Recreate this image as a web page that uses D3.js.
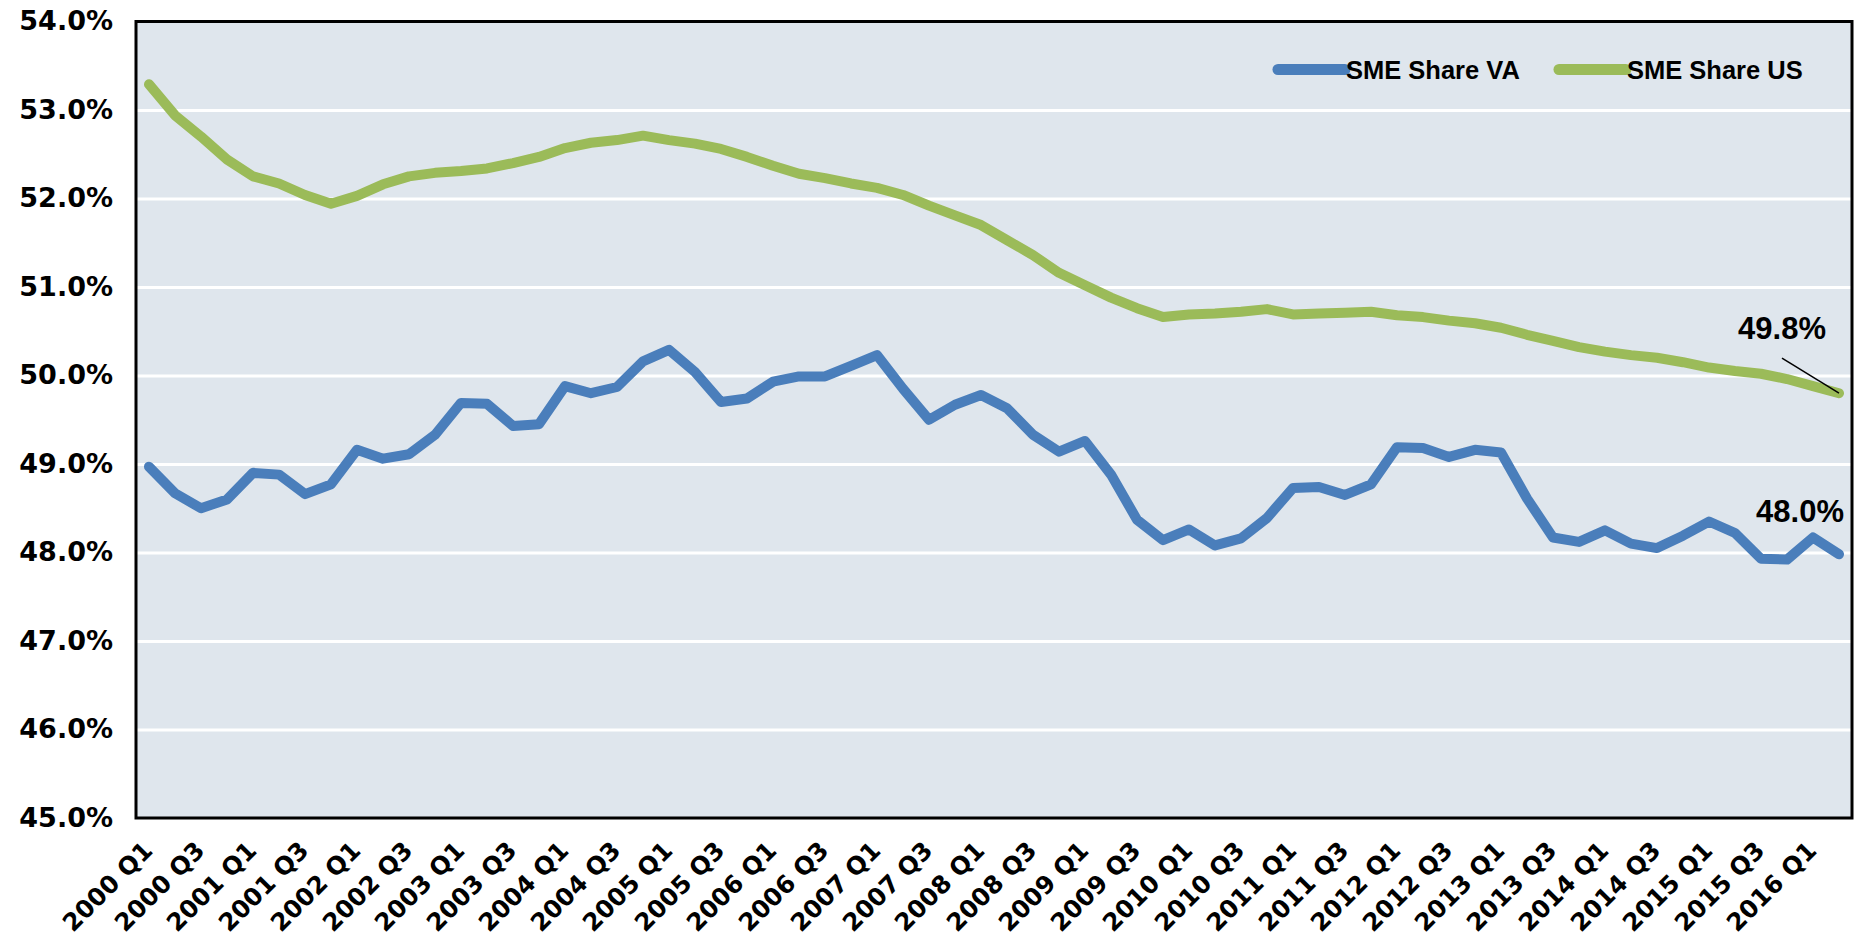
<!DOCTYPE html>
<html>
<head>
<meta charset="utf-8">
<script src="https://cdn.jsdelivr.net/npm/d3@7"></script>
<style>
  body { margin: 0; background: #fff; }
  svg { display: block; }
  .axis path, .axis line { display: none; }
  .tick-y text { font-family: "DejaVu Sans", sans-serif; font-weight: bold; font-size: 27px; fill: #000; }
  .tick-x text { font-family: "DejaVu Sans", sans-serif; font-weight: bold; font-size: 24.5px; fill: #000; }
  .grid line { stroke: #fff; stroke-width: 3; }
  .legend text, .note { font-family: "Liberation Sans", Arial, sans-serif; font-weight: bold; fill: #000; }
</style>
</head>
<body>
<div id="chart"></div>
<script>
// quarters 2000 Q1 .. 2016 Q2
var years = d3.range(2000, 2017)
var categories = []
years.forEach(y => [1, 2, 3, 4].forEach(q => categories.push(y + " Q" + q)))
categories = categories.slice(0, 66)

var shareVA = [
  48.97, 48.67, 48.50, 48.60, 48.90, 48.88, 48.66, 48.77, 49.16, 49.06,
  49.11, 49.33, 49.69, 49.68, 49.43, 49.45, 49.88, 49.80, 49.87, 50.16,
  50.29, 50.04, 49.70, 49.74, 49.93, 49.99, 49.99, 50.11, 50.23, 49.85,
  49.50, 49.67, 49.78, 49.63, 49.33, 49.14, 49.26, 48.88, 48.37, 48.14,
  48.26, 48.08, 48.16, 48.39, 48.73, 48.74, 48.65, 48.77, 49.19, 49.18,
  49.08, 49.16, 49.13, 48.61, 48.17, 48.12, 48.25, 48.10, 48.05, 48.19,
  48.35, 48.22, 47.93, 47.92, 48.17, 47.98
]
var shareUS = [
  53.29, 52.94, 52.70, 52.44, 52.25, 52.17, 52.04, 51.94, 52.03, 52.16,
  52.25, 52.29, 52.31, 52.34, 52.40, 52.47, 52.57, 52.63, 52.66, 52.71,
  52.66, 52.62, 52.56, 52.47, 52.37, 52.28, 52.23, 52.17, 52.12, 52.04,
  51.92, 51.81, 51.70, 51.53, 51.36, 51.16, 51.02, 50.88, 50.76, 50.66,
  50.69, 50.70, 50.72, 50.75, 50.69, 50.70, 50.71, 50.72, 50.68, 50.66,
  50.62, 50.59, 50.54, 50.46, 50.39, 50.32, 50.27, 50.23, 50.20, 50.15,
  50.09, 50.05, 50.02, 49.96, 49.88, 49.80
]
var yTicks = [45, 46, 47, 48, 49, 50, 51, 52, 53, 54]
var seriesNames = ["SME Share VA", "SME Share US"]
var seriesColors = ["#4a7ebb", "#9bbb59"]

var width = 1859, height = 942
var pad = { top: 21.5, right: 7, bottom: 124, left: 136 }
var innerW = width - pad.left - pad.right
var innerH = height - pad.top - pad.bottom

var svg = d3.select("#chart").append("svg")
    .attr("width", width)
    .attr("height", height)

var g = svg.append("g")
    .attr("transform", "translate(" + pad.left + "," + pad.top + ")")

var x = d3.scaleBand().domain(categories).range([0, innerW]).padding(0)
var y = d3.scaleLinear().domain([45, 54]).range([innerH, 0])
var cx = d => x(d) + x.bandwidth() / 2

g.append("rect")
    .attr("width", innerW)
    .attr("height", innerH)
    .attr("fill", "#dfe6ed")

// grid
g.append("g").attr("class", "grid")
  .call(d3.axisLeft(y).tickValues(yTicks.slice(1, -1)).tickSize(-innerW).tickFormat(""))
  .call(s => s.select(".domain").remove())

// y labels
g.append("g").attr("class", "axis tick-y")
  .call(d3.axisLeft(y).tickValues(yTicks).tickSize(0).tickPadding(23)
    .tickFormat(d => d.toFixed(1) + "%"))
  .selectAll("text").attr("dy", "0.3em")

// x labels
g.append("g").attr("class", "axis tick-x")
  .attr("transform", "translate(0," + innerH + ")")
  .call(d3.axisBottom(x).tickValues(categories.filter((d, i) => i % 2 === 0)).tickSize(0))
  .selectAll("text")
    .attr("text-anchor", "end")
    .attr("x", 0).attr("y", 0).attr("dy", 0)
    .attr("transform", "translate(5,34) rotate(-45)")

// lines
var line = d3.line().x((d, i) => cx(categories[i])).y(d => y(d))
;[shareVA, shareUS].forEach((s, k) => {
  g.append("path")
      .datum(s)
      .attr("fill", "none")
      .attr("stroke", seriesColors[k])
      .attr("stroke-width", 10)
      .attr("stroke-linejoin", "round")
      .attr("stroke-linecap", "round")
      .attr("d", line)
})

// frame
g.append("rect")
    .attr("width", innerW)
    .attr("height", innerH)
    .attr("fill", "none")
    .attr("stroke", "#000")
    .attr("stroke-width", 3)

// legend
var legend = g.append("g").attr("class", "legend")
var legX = [1142, 1423]
seriesNames.forEach((name, k) => {
  var lg = legend.append("g").attr("transform", "translate(" + legX[k] + ",48)")
  lg.append("line")
      .attr("x1", 0).attr("x2", 67)
      .attr("stroke", seriesColors[k])
      .attr("stroke-width", 11)
      .attr("stroke-linecap", "round")
  lg.append("text")
      .attr("x", 68).attr("y", 9)
      .attr("font-size", 25.5)
      .text(name)
})

// end labels
var last = categories.length - 1
var lx = cx(categories[last])
g.append("line")
    .attr("x1", lx - 57).attr("y1", y(shareUS[last]) - 35)
    .attr("x2", lx).attr("y2", y(shareUS[last]))
    .attr("stroke", "#000").attr("stroke-width", 1.5)
g.append("text").attr("class", "note")
    .attr("x", lx - 13).attr("y", y(shareUS[last]) - 54)
    .attr("text-anchor", "end").attr("font-size", 31)
    .text(shareUS[last].toFixed(1) + "%")
g.append("text").attr("class", "note")
    .attr("x", lx + 5).attr("y", y(shareVA[last]) - 32)
    .attr("text-anchor", "end").attr("font-size", 31)
    .text(shareVA[last].toFixed(1) + "%")
</script>
</body>
</html>
